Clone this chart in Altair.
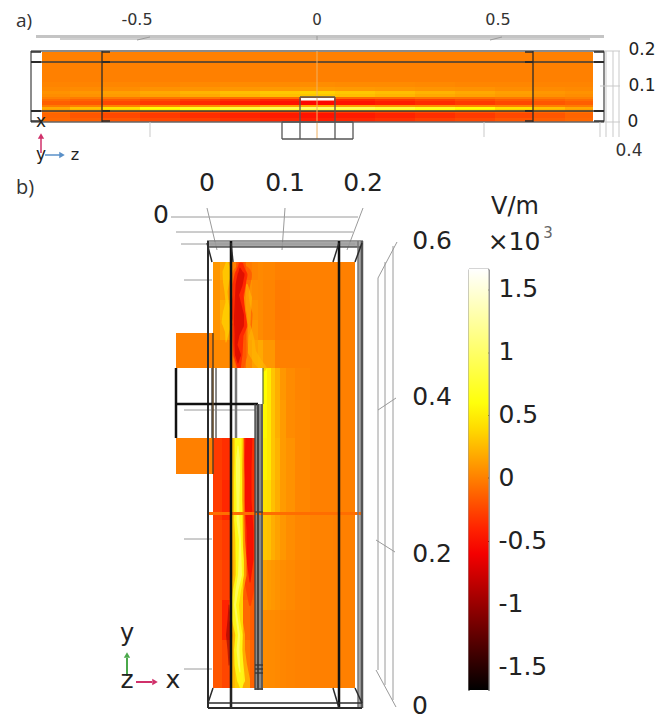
import altair as alt
import pandas as pd

# ---------- field values (kV/m) ----------
A_X = [42, 70, 102, 140, 180, 220, 260, 300, 335, 375, 415, 455, 495, 533, 565, 593]
A_Y = [51, 82, 87, 91, 94, 97, 99, 101, 105, 107, 109, 111, 113, 118, 122]
A_V = [
    [.00, .00, .00, .00, .00, .00, .00, .00, .00, .00, .00, .00, .00, .00, .00],
    [.02, .02, .03, .03, .04, .05, .05, .06, .05, .05, .04, .03, .03, .02, .02],
    [.04, .05, .06, .08, .09, .10, .11, .12, .11, .10, .09, .08, .06, .05, .04],
    [.08, .10, .14, .18, .22, .27, .31, .35, .31, .27, .22, .18, .14, .10, .08],
    [.06, .08, .12, .15, .18, .23, .27, .30, .27, .23, .18, .15, .12, .08, .06],
    [.00, -.02, -.03, -.05, -.05, -.08, -.09, -.12, -.09, -.08, -.05, -.05, -.03, -.02, .00],
    [-.08, -.12, -.16, -.22, -.28, -.33, -.38, -.42, -.38, -.33, -.28, -.22, -.16, -.12, -.08],
    [-.14, -.18, -.24, -.30, -.36, -.42, -.47, -.52, -.47, -.42, -.36, -.30, -.24, -.18, -.14],
    [-.02, .00, .02, .05, .08, .10, .14, .18, .14, .10, .08, .05, .02, .00, -.02],
    [.18, .28, .42, .58, .70, .82, .92, 1.02, .92, .82, .70, .58, .42, .28, .18],
    [.14, .22, .35, .48, .60, .70, .78, .85, .78, .70, .60, .48, .35, .22, .14],
    [-.06, -.10, -.14, -.18, -.22, -.25, -.28, -.30, -.28, -.25, -.22, -.18, -.14, -.10, -.06],
    [-.12, -.18, -.24, -.30, -.35, -.40, -.44, -.47, -.44, -.40, -.35, -.30, -.24, -.18, -.12],
    [-.10, -.14, -.18, -.24, -.28, -.34, -.38, -.42, -.38, -.34, -.28, -.24, -.18, -.14, -.10],
]

B1_X = [213, 220, 231, 236, 246, 252, 258, 263, 275, 290, 310, 333, 355]
B1_Y = [262, 280, 300, 320, 340, 368]
B1_V = [
    [.10, .16, .00, -.15, -.02, .02, .04, .03, .00, .00, .00, .00],
    [.08, .12, .00, -.20, .08, .05, .04, .02, -.02, .00, .00, .00],
    [.10, .20, .00, -.20, .10, .08, .05, .02, -.03, -.01, .00, .00],
    [.08, .15, .00, -.12, .08, .10, .05, .02, -.02, -.01, .00, .00],
    [.04, .04, -.02, -.08, .05, .14, .18, .10, .00, .00, .00, .00],
]

B2_X = [263, 267, 271, 275, 280, 286, 295, 310, 333, 355]
B2_Y = [368, 400, 438, 480, 513, 560, 610, 688]
B2_V = [
    [.55, .46, .30, .20, .10, .05, .02, .00, .00],
    [.52, .45, .30, .20, .12, .05, .03, .00, .00],
    [.50, .45, .30, .22, .12, .08, .03, .00, .00],
    [.42, .40, .28, .20, .12, .08, .03, .00, .00],
    [.30, .28, .20, .15, .10, .06, .03, .01, .00],
    [.15, .12, .10, .08, .06, .04, .02, .00, .00],
    [.06, .05, .05, .04, .03, .02, .01, .00, .00],
]

B3_X = [213, 222, 231, 235, 243, 250, 255]
B3_Y = [438, 480, 520, 560, 600, 640, 688]
B3_V = [
    [-.30, -.35, .20, .50, -.30, -.35],
    [-.30, -.38, .20, .50, -.30, -.35],
    [-.25, -.30, .20, .50, -.25, -.30],
    [-.22, -.28, .15, .40, -.15, -.20],
    [-.20, -.40, .10, .40, -.10, -.15],
    [-.18, -.25, .10, .30, -.05, -.12],
]

BLOCK_X = [176, 213]
BLOCK_Y = [[333, 368], [438, 474]]
BLOCK_V = [0.0, 0.0]
BAND_X = [208, 363]
BAND_Y = [512, 515]
BAND_V = [-0.08]

# ---------- streaks: name, value, opacity, y, x, width ----------
STREAKS = [
    ("red_h", -.25, .5, [263, 275, 285, 295, 305, 315, 325, 335, 345, 355, 368],
     [241, 242, 240, 240, 240, 241, 241, 240, 240, 240, 240],
     [6, 20, 20, 17, 20, 23, 22, 18, 16, 15, 8]),
    ("red_o", -.45, .7, [265, 275, 285, 295, 305, 315, 325, 335, 345, 355, 367],
     [241, 241, 239, 238, 238, 239, 240, 238, 238, 238, 239],
     [5, 13, 13, 11, 13, 16, 15, 11, 10, 9, 4]),
    ("red_i", -.78, .6, [268, 275, 285, 295, 305, 315, 325, 335, 345, 355, 363],
     [240, 241, 239, 237, 238, 239, 239, 237, 236, 238, 238],
     [1, 7, 7, 4, 7, 10, 10, 5, 3, 6, 1]),
    ("yel_l", .45, .5, [263, 272, 282, 292, 302, 312, 322, 332, 342],
     [227, 227, 226, 226, 227, 227, 227, 227, 226],
     [3, 9, 6, 3, 3, 8, 11, 4, 1]),
    ("yel_r", .25, .6, [285, 298, 310, 325, 340, 352, 362, 368],
     [247, 248, 248, 249, 251, 252, 258, 263],
     [2, 8, 6, 3, 7, 8, 8, 7]),
    ("red_lh", -.35, .6, [432, 470, 500, 530, 560, 585, 605],
     [249, 248, 248, 250, 250, 250, 250],
     [12, 12, 12, 12, 12, 10, 2]),
    ("red_lo", -.6, .7, [434, 470, 500, 530, 560, 582],
     [249, 248, 248, 250, 250, 250],
     [7, 7, 7, 7, 7, 1]),
    ("yel_h", .35, .6, [430, 460, 480, 500, 520, 540, 560, 575, 590, 605, 620, 635, 650, 665, 680, 690],
     [238, 238, 238, 238, 238, 239, 240, 240, 237, 236, 236, 239, 238, 239, 241, 241],
     [12, 12, 13, 13, 13, 12, 13, 13, 13, 13, 13, 12, 14, 16, 18, 18]),
    ("yel_o", .66, .8, [430, 460, 480, 500, 520, 540, 560, 575, 590, 605, 620, 635, 650, 665, 680, 687],
     [238, 238, 238, 238, 238, 239, 240, 240, 237, 235, 236, 239, 238, 239, 241, 241],
     [7, 7, 8, 8, 8, 7, 8, 8, 8, 8, 8, 7, 8, 9, 8, 3]),
    ("yel_i", 1.12, .6, [446, 460, 480, 500, 520, 540, 560, 575, 590, 605, 620, 635, 650, 665, 672],
     [238, 238, 238, 238, 238, 240, 240, 240, 237, 235, 237, 239, 238, 239, 240],
     [1, 4, 4, 3, 3, 2, 3, 4, 3, 2, 2, 2, 3, 2, 1]),
    ("dark", -1.0, .6, [605, 620, 635, 650, 665], [229, 229, 229, 229, 229], [1, 3, 6, 3, 1]),
]

# ---------- outline segments: x, y, x2, y2, width, colour ----------
DARK, MID, GREY, PALE = "#2b2b2b", "#555555", "#9a9a9a", "#c9c9c9"
SEGMENTS = [
    # panel a frame
    (31, 51, 604, 51, 2, "#8a8a8a"), (31, 122, 604, 122, 1.5, "#666666"),
    (31, 51, 31, 122, 1.5, "#666666"), (604, 51, 604, 122, 1.5, "#666666"),
    (31, 62, 604, 62, 1.3, "#3a3a3a"), (31, 111, 604, 111, 1.3, "#3a3a3a"),
    (102, 51, 102, 122, 1.3, DARK), (533, 51, 533, 122, 1.3, DARK),
    (102, 52, 110, 52, 1.5, DARK), (102, 62, 110, 62, 2, DARK), (102, 111, 110, 111, 2, DARK), (102, 121, 110, 121, 1.5, DARK),
    (525, 52, 533, 52, 1.5, DARK), (525, 62, 533, 62, 2, DARK), (525, 111, 533, 111, 2, DARK), (525, 121, 533, 121, 1.5, DARK),
    (31, 52, 41, 52, 1.5, DARK), (31, 62, 41, 62, 2, DARK), (31, 111, 41, 111, 2, DARK), (31, 121, 41, 121, 1.5, DARK),
    (594, 52, 604, 52, 1.5, DARK), (594, 62, 604, 62, 2, DARK), (594, 111, 604, 111, 2, DARK), (594, 121, 604, 121, 1.5, DARK),
    (317, 51, 317, 139, 1, "#f0b060"),
    (300, 97, 335, 97, 1.3, MID), (300, 97, 300, 122, 1.3, MID), (335, 97, 335, 122, 1.3, MID),
    (282, 122, 353, 122, 1.3, MID), (282, 139, 353, 139, 1.5, MID), (282, 122, 282, 139, 1.3, MID),
    (353, 122, 353, 139, 1.3, MID), (300, 122, 300, 139, 1.3, MID), (335, 122, 335, 139, 1.3, MID),
    # panel a scale furniture
    (150, 122, 150, 137, 1, PALE), (484, 122, 484, 137, 1, PALE),
    (600, 122, 600, 137, 1, PALE), (606, 51, 606, 137, 1, PALE), (613, 51, 613, 137, 1, PALE), (619, 51, 619, 137, 1, PALE),
    (604, 51, 620, 51, 1, PALE), (600, 86, 620, 86, 1, PALE), (604, 122, 620, 122, 1, PALE),
    (137, 40, 150, 37, 1, GREY), (317, 36, 317, 40, 1, GREY), (490, 40, 502, 37, 1, GREY),
    # panel b scale furniture
    (207, 208, 217, 250, 1, GREY), (285, 208, 282, 250, 1, GREY), (363, 208, 347, 250, 1, GREY),
    (171, 217, 358, 217, 1, GREY), (176, 232, 353, 232, 1, GREY), (181, 244, 355, 244, 1, GREY),
    (184, 280, 212, 280, 1, GREY), (184, 410, 258, 410, 1, GREY), (184, 539, 212, 539, 1, GREY), (184, 669, 212, 669, 1, GREY),
    (378, 278, 378, 670, 1, GREY), (385, 262, 385, 685, 1, GREY), (393, 246, 393, 700, 1, GREY),
    (378, 278, 397, 242, 1, GREY), (378, 410, 396, 398, 1, GREY), (376, 540, 395, 552, 1, GREY), (376, 670, 396, 707, 1, GREY),
    # panel b frame
    (207, 241, 363, 241, 1.5, "#777777"), (207, 247, 363, 247, 1.5, "#555555"),
    (208, 241, 208, 708, 2, DARK), (212, 368, 212, 438, 2, "#777777"), (216, 368, 216, 438, 2, "#888888"),
    (231, 241, 231, 708, 2.5, "#111111"), (236, 368, 236, 438, 2.5, "#777777"),
    (339, 241, 339, 708, 2.5, "#111111"), (358, 241, 358, 708, 1.5, "#777777"), (362, 241, 362, 708, 2.5, "#555555"),
    (207, 243, 212, 262, 1.5, DARK), (231, 243, 233, 262, 1.5, DARK), (339, 243, 333, 262, 1.5, DARK), (362, 243, 355, 262, 1.5, DARK),
    (213, 688, 208, 703, 1.5, DARK), (231, 688, 231, 708, 1.5, DARK), (333, 688, 339, 708, 1.5, DARK), (355, 688, 362, 703, 1.5, DARK),
    (208, 703, 362, 703, 1.5, DARK), (208, 708, 362, 708, 2, DARK),
    (176, 368, 176, 438, 2.5, "#111111"), (176, 404, 258, 404, 2.5, "#111111"),
    (263, 368, 263, 404, 1.2, "#556633"),
    (213, 333, 213, 474, 1.5, "#5a4020"),
    (255, 404, 255, 690, 1.3, "#444444"), (258, 404, 258, 690, 2, "#444444"), (262, 404, 262, 690, 1.3, "#444444"),
    (255, 512, 263, 512, 1.5, "#444444"), (255, 665, 263, 665, 1.3, "#333333"), (255, 669, 263, 669, 1.3, "#333333"), (255, 673, 263, 673, 1.3, "#333333"),
    (255, 689, 263, 689, 1.5, "#444444"),
    # colour-bar outline and ticks
    (469, 269.5, 489, 269.5, 1.5, MID), (469, 269.5, 469, 691, 1.2, MID), (489, 269.5, 489, 691, 1.2, MID),
    (469, 290, 472, 290, 1, DARK), (486, 290, 489, 290, 1, DARK), (469, 353, 472, 353, 1, DARK), (486, 353, 489, 353, 1, DARK),
    (469, 415.5, 472, 415.5, 1, DARK), (486, 415.5, 489, 415.5, 1, DARK), (469, 478, 472, 478, 1, DARK), (486, 478, 489, 478, 1, DARK),
    (469, 541.5, 472, 541.5, 1, DARK), (486, 541.5, 489, 541.5, 1, DARK),
    # triads
    (41, 153, 41, 138, 1.5, "#d0306a"), (45, 155, 60, 155, 1.5, "#5a90c8"),
    (127, 676, 127, 658, 2, "#4aa84a"), (136, 682, 152, 682, 2, "#d0306a"),
]
PLAIN_RECTS = [
    (301, 98, 334, 100.5, "#ffffff"),
    (213, 368, 263, 438, "#ffffff"), (213, 688, 256, 700, "#ffffff"), (213, 250, 256, 262, "#ffffff"),
    (255, 404, 263, 690, "#8a8a8a"),
    (36, 35, 604, 38, "#c4c4c4"), (60, 38, 590, 40, "#cfcfcf"),
    (208, 242, 362, 247, "#a8a8a8"), (358, 247, 362, 708, "#a8a8a8"),
]
HEADS = [(41, 136, "triangle-up", "#d0306a"), (62, 155, "triangle-right", "#5a90c8"),
         (127, 655, "triangle-up", "#4aa84a"), (155, 682, "triangle-right", "#d0306a")]

TEXTS = [
    ("-0.5", 137, 20, 16, "#333333"), ("0", 317, 20, 15, "#333333"), ("0.5", 498, 20, 16, "#333333"),
    ("0.2", 642, 50, 17, "#222222"), ("0.1", 642, 86, 17, "#222222"), ("0", 633, 122, 17, "#222222"), ("0.4", 629, 151, 17, "#333333"),
    ("x", 41, 122, 17, "#222222"), ("y", 41, 155, 17, "#222222"), ("z", 75, 155, 16, "#222222"),
    ("0", 207, 183, 25, "#222222"), ("0.1", 285, 183, 25, "#222222"), ("0.2", 363, 183, 25, "#222222"),
    ("0", 161, 215, 25, "#222222"),
    ("0.6", 432, 241, 25, "#222222"), ("0.4", 432, 397, 25, "#222222"), ("0.2", 432, 554, 25, "#222222"), ("0", 420, 706, 25, "#222222"),
    ("V/m", 515, 207, 24, "#222222"), ("×10", 514, 242, 25, "#222222"), ("3", 548, 233, 15, "#666666"),
    ("y", 127, 634, 24, "#222222"), ("z", 127, 680, 25, "#222222"), ("x", 173, 680, 25, "#222222"),
]
PANEL_TAGS = [("a)", 16, 21, 19), ("b)", 16, 188, 20)]
BAR_TICK_COUNT = 7

# ---------- tables ----------
cells = []
def add_grid(xs, ys, vs):
    for r, row in enumerate(vs):
        for c, v in enumerate(row):
            cells.append(dict(x=xs[c], x2=xs[c + 1], y=ys[r], y2=ys[r + 1], v=v))
for g in [(A_X, A_Y, A_V), (B1_X, B1_Y, B1_V), (B2_X, B2_Y, B2_V), (B3_X, B3_Y, B3_V)]:
    add_grid(*g)
for (y0, y1), v in zip(BLOCK_Y, BLOCK_V):
    cells.append(dict(x=BLOCK_X[0], x2=BLOCK_X[1], y=y0, y2=y1, v=v))
cells_band = pd.DataFrame([dict(x=BAND_X[0], x2=BAND_X[1], y=BAND_Y[0], y2=BAND_Y[1], v=BAND_V[0])])
cells = pd.DataFrame(cells)

trail_rows = []
for name, v, op, ys, xs, ws in STREAKS:
    for i, (yy, xx, ww) in enumerate(zip(ys, xs, ws)):
        trail_rows.append(dict(name=name, v=v, op=op, y=yy, x=xx, w=ww, i=i))
trails = pd.DataFrame(trail_rows)

segs = pd.DataFrame(SEGMENTS, columns=["x", "y", "x2", "y2", "w", "c"])
plain = pd.DataFrame(PLAIN_RECTS, columns=["x", "y", "x2", "y2", "c"])
heads = pd.DataFrame(HEADS, columns=["x", "y", "s", "c"])
texts = pd.DataFrame(TEXTS, columns=["t", "x", "y", "s", "c"])
tags = pd.DataFrame(PANEL_TAGS, columns=["t", "x", "y", "s"])

# ---------- scales ----------
X = alt.Scale(domain=[8, 664], nice=False, zero=False)
Y = alt.Scale(domain=[720, 8], nice=False, zero=False)
HEAT_DOMAIN = [-1.68, -0.55, 0.55, 1.66]
HEAT_RANGE = ["#000000", "#ff0000", "#ffff00", "#ffffff"]
heat = alt.Scale(domain=HEAT_DOMAIN, range=HEAT_RANGE, interpolate="rgb", clamp=True)
legend = alt.Legend(
    type="gradient", orient="none", legendX=460.5, legendY=261, title=None, direction="vertical",
    gradientLength=421, gradientThickness=20, gradientStrokeWidth=0,
    tickCount=BAR_TICK_COUNT, labelExpr="'' + datum.value", labelFont="DejaVu Sans", labelFontSize=25,
    labelColor="#222222", labelOffset=10, labelOverlap=False, labelSeparation=0,
)
col = alt.Color("v:Q", scale=heat, legend=legend)

def xe(f="x"):
    return alt.X(f"{f}:Q", scale=X, axis=None)
def ye(f="y"):
    return alt.Y(f"{f}:Q", scale=Y, axis=None)

field = alt.Chart(cells).mark_rect().encode(x=xe(), x2="x2:Q", y=ye(), y2="y2:Q", color=col)
band = alt.Chart(cells_band).mark_rect().encode(x=xe(), x2="x2:Q", y=ye(), y2="y2:Q", color=col)
streak = alt.Chart(trails).mark_trail().encode(
    x=xe(), y=ye(), size=alt.Size("w:Q", scale=None),
    fill=alt.Fill("v:Q", scale=heat, legend=None), stroke=alt.value(None),
    detail="name:N", order="i:Q", opacity=alt.Opacity("op:Q", scale=None))
boxes = alt.Chart(plain).mark_rect().encode(
    x=xe(), x2="x2:Q", y=ye(), y2="y2:Q", fill=alt.Fill("c:N", scale=None))
lines = alt.Chart(segs).mark_rule().encode(
    x=xe(), x2="x2:Q", y=ye(), y2="y2:Q",
    stroke=alt.Stroke("c:N", scale=None), strokeWidth=alt.StrokeWidth("w:Q", scale=None))
tips = alt.Chart(heads).mark_point(filled=True, size=40, opacity=1).encode(
    x=xe(), y=ye(), shape=alt.Shape("s:N", scale=None), fill=alt.Fill("c:N", scale=None),
    stroke=alt.value(None))
labels = alt.Chart(texts).mark_text(font="DejaVu Sans", align="center", baseline="middle").encode(
    x=xe(), y=ye(), text="t:N", size=alt.Size("s:Q", scale=None), fill=alt.Fill("c:N", scale=None))
tag_text = alt.Chart(tags).mark_text(font="Open Sans", align="left", baseline="middle", color="#333333").encode(
    x=xe(), y=ye(), text="t:N", size=alt.Size("s:Q", scale=None))

chart = alt.layer(field, streak, boxes, band, lines, tips, labels, tag_text).properties(
    width=656, height=712, padding=0, autosize=alt.AutoSizeParams(type="none"),
    background="white",
).configure_view(stroke=None)

chart.save("out.html", embed_options={"renderer": "svg", "actions": False})
